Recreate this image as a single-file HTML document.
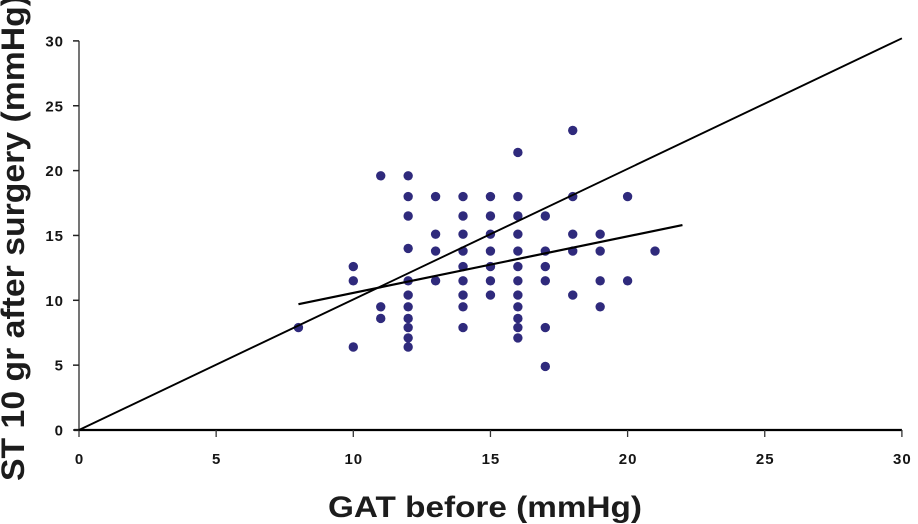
<!DOCTYPE html>
<html>
<head>
<meta charset="utf-8">
<title>GAT before vs ST 10 gr after surgery</title>
<style>
html,body{margin:0;padding:0;background:#fff;width:918px;height:524px;overflow:hidden}
svg{display:block}
.tick{font:bold 15px "Liberation Sans",sans-serif;fill:#151515;letter-spacing:1px}
.title{font:bold 30px "Liberation Sans",sans-serif;fill:#1c1c1c}
.title-y{font:bold 32px "Liberation Sans",sans-serif;fill:#1c1c1c}
</style>
</head>
<body>
<svg id="chart" width="918" height="524" viewBox="0 0 918 524">
<text class="title" x="485" y="517" text-anchor="middle" textLength="314" lengthAdjust="spacingAndGlyphs">GAT before (mmHg)</text>
<text class="title-y" transform="translate(24,238) rotate(-90)" text-anchor="middle" textLength="486" lengthAdjust="spacingAndGlyphs">ST 10 gr after surgery (mmHg)</text>
</svg>
<script>
const xTicks = [0, 5, 10, 15, 20, 25, 30];
const yTicks = [0, 5, 10, 15, 20, 25, 30];
const gatBefore = [
  8,
  10, 10, 10,
  11, 11, 11,
  12, 12, 12, 12, 12, 12, 12, 12, 12, 12, 12,
  13, 13, 13, 13,
  14, 14, 14, 14, 14, 14, 14, 14, 14,
  15, 15, 15, 15, 15, 15, 15,
  16, 16, 16, 16, 16, 16, 16, 16, 16, 16, 16, 16,
  17, 17, 17, 17, 17, 17,
  18, 18, 18, 18, 18,
  19, 19, 19, 19,
  20, 20,
  21
];
const stAfter = [
  7.9,
  6.4, 11.5, 12.6,
  19.6, 9.5, 8.6,
  19.6, 18, 16.5, 14, 11.5, 10.4, 9.5, 8.6, 7.9, 7.1, 6.4,
  18, 15.1, 13.8, 11.5,
  18, 16.5, 15.1, 13.8, 12.6, 11.5, 10.4, 9.5, 7.9,
  18, 16.5, 15.1, 13.8, 12.6, 11.5, 10.4,
  21.4, 18, 16.5, 15.1, 13.8, 12.6, 11.5, 10.4, 9.5, 8.6, 7.9, 7.1,
  16.5, 13.8, 12.6, 11.5, 7.9, 4.9,
  23.1, 18, 15.1, 13.8, 10.4,
  15.1, 13.8, 11.5, 9.5,
  18, 11.5,
  13.8
];
const identityX = [0, 30];
const identityY = [0, 30.2];
const trendX = [8, 22];
const trendY = [9.7, 15.8];

const svgNS = 'http://www.w3.org/2000/svg';
const chart = document.getElementById('chart');
const xScale = v => 79 + v * 27.43;
const yScale = v => 430 - v * 12.97;
function mk(tag, attrs, parent) {
  const e = document.createElementNS(svgNS, tag);
  for (const k in attrs) e.setAttribute(k, attrs[k]);
  (parent || chart).appendChild(e);
  return e;
}

const yAxis = mk('line', {x1: xScale(0), y1: yScale(30), x2: xScale(0), y2: yScale(0), stroke: '#666', 'stroke-width': 1.8});


const xAxis = mk('line', {x1: xScale(0) - 5, y1: yScale(0), x2: xScale(30), y2: yScale(0), stroke: '#000', 'stroke-width': 2.2});



xTicks.forEach(t => {
  const m = mk('line', {x1: xScale(t), y1: yScale(0), x2: xScale(t), y2: yScale(0) + 7, stroke: '#333', 'stroke-width': 1.3});
  
  
  const l = mk('text', {x: xScale(t) + 0.5, y: 464, 'text-anchor': 'middle', class: 'tick'});
  
  
  l.textContent = t;
});
yTicks.forEach(t => {
  const m = mk('line', {x1: xScale(0) - 6, y1: yScale(t), x2: xScale(0), y2: yScale(t), stroke: '#222', 'stroke-width': 1.5});
  
  
  const l = mk('text', {x: 64, y: yScale(t) + 5.5, 'text-anchor': 'end', class: 'tick'});
  
  
  l.textContent = t;
});

gatBefore.forEach((g, i) => {
  const c = mk('circle', {cx: xScale(g), cy: yScale(stAfter[i]), r: 4.7, fill: '#2f2a7c'});
  
  
});

const idLine = mk('line', {x1: xScale(identityX[0]), y1: yScale(identityY[0]), x2: xScale(identityX[1]), y2: yScale(identityY[1]), stroke: '#000', 'stroke-width': 1.9});


const trLine = mk('line', {x1: xScale(trendX[0]), y1: yScale(trendY[0]), x2: xScale(trendX[1]), y2: yScale(trendY[1]), stroke: '#000', 'stroke-width': 2.2});


</script>
</body>
</html>
